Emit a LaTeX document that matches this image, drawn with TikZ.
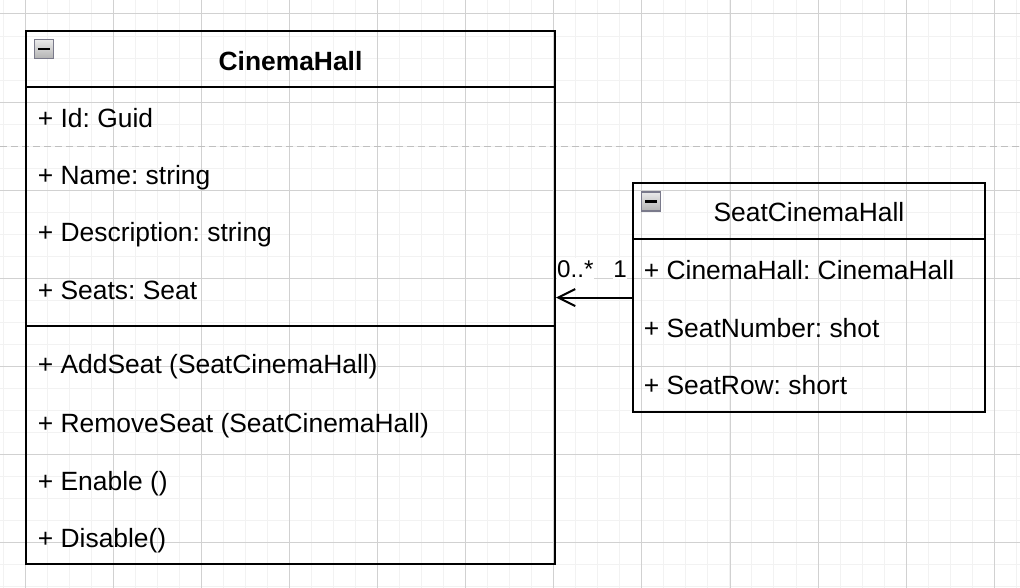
\documentclass[tikz,border=0pt]{standalone}
\usepackage{fontspec}
\setmainfont{Liberation Sans}
\frenchspacing
\usetikzlibrary{arrows.meta,calc,positioning}
\tikzset{%
    umlbox/.style={draw,line width=2pt,inner sep=0pt},
    umlline/.style={line width=2pt},
    member/.style={anchor=base west,inner sep=0pt,font=\fontsize{26.4}{30}\selectfont},
    title/.style={anchor=base,inner sep=0pt,font=\fontsize{26.4}{30}\selectfont},
    multlabel/.style={fill=white,inner xsep=0pt,inner ysep=2pt,font=\fontsize{24.2}{28}\selectfont},
    collapse/.style={draw=black!45!blue!20!white!60!black,line width=1.5pt,minimum size=19pt,inner sep=0pt,
        top color=black!8,bottom color=black!30},
}
\tikzstyle{gridminor}=[line width=1pt,color=black!5]
\tikzstyle{gridmajor}=[line width=1pt,color=black!18]
\tikzstyle{pagebreak}=[line width=1.5pt,color=black!25,dash pattern=on 7pt off 4pt]
\tikzstyle{assoc}=[-{Straight Barb[length=17pt,width=17pt]},line width=2pt]

\begin{document}
\begin{tikzpicture}[x=1pt,y=-1pt]
    \useasboundingbox (0,0) rectangle (1020,588);
    \fill[white] (0,0) rectangle (1020,588);
    % grid
    \foreach \i in {0,...,46} \draw[gridminor] ({3.28+22.02*\i},0) -- ({3.28+22.02*\i},588);
    \foreach \j in {0,...,26} \draw[gridminor] (0,{14+22.02*\j}) -- (1020,{14+22.02*\j});
    \foreach \i in {0,...,11} \draw[gridmajor] ({25.3+88.09*\i},0) -- ({25.3+88.09*\i},588);
    \foreach \j in {0,...,6} \draw[gridmajor] (0,{14+88.08*\j}) -- (1020,{14+88.08*\j});
    \draw[pagebreak] (0,146.7) -- (1020,146.7);

    \node [umlbox,minimum width=529pt,minimum height=532.6pt] (hall) at (290.5,297.3) {};
    \node [umlbox,minimum width=352pt,minimum height=228.6pt] (seat) at (809,297.6) {};
    \draw[umlline] ([yshift=-57.2pt]hall.north west) -- ([yshift=-57.2pt]hall.north east);
    \draw[umlline] ([yshift=-295.5pt]hall.north west) -- ([yshift=-295.5pt]hall.north east);
    \draw[umlline] ([yshift=-57pt]seat.north west) -- ([yshift=-57pt]seat.north east);

    \node [collapse] (hallicon) at ($(hall.north west)+(19,19)$) {};
    \draw[line width=2.7pt] ([xshift=-6pt]hallicon.center) -- ([xshift=6pt]hallicon.center);
    \node [collapse] (seaticon) at ($(seat.north west)+(19,19)$) {};
    \draw[line width=2.7pt] ([xshift=-6pt]seaticon.center) -- ([xshift=6pt]seaticon.center);

    \node [title] (hallname) at ($(hall.north)+(0,40.5)$) {\bfseries CinemaHall};
    \node [member] (hallid) at ($(hall.north west)+(12.7,98)$) {+ Id: Guid};
    \node [member] (hallnm) at ($(hall.north west)+(12.7,155)$) {+ Name: string};
    \node [member] (halldesc) at ($(hall.north west)+(12.7,212)$) {+ Description: string};
    \node [member] (hallseats) at ($(hall.north west)+(12.7,269.5)$) {+ Seats: Seat};
    \node [member] (addseat) at ($(hall.north west)+(12.7,343.5)$) {+ AddSeat (SeatCinemaHall)};
    \node [member] (removeseat) at ($(hall.north west)+(12.7,402.5)$) {+ RemoveSeat (SeatCinemaHall)};
    \node [member] (enable) at ($(hall.north west)+(12.7,460)$) {+ Enable ()};
    \node [member] (disable) at ($(hall.north west)+(12.7,517)$) {+ Disable()};

    \node [title] (seatname) at ($(seat.north)+(0,39)$) {SeatCinemaHall};
    \node [member] (seathall) at ($(seat.north west)+(11.7,97.2)$) {+ CinemaHall: CinemaHall};
    \node [member] (seatnum) at ($(seat.north west)+(11.7,154.7)$) {+ SeatNumber: shot};
    \node [member] (seatrow) at ($(seat.north west)+(11.7,212.2)$) {+ SeatRow: short};

    \draw[assoc] (seat.west) -- (seat.west -| hall.east);
    \node [multlabel,anchor=base west] (manyend) at ($(seat.west -| hall.east)+(1,-20.5)$) {0..*};
    \node [multlabel,anchor=base east] (oneend) at ($(seat.west)+(-5,-20.5)$) {1};
\end{tikzpicture}
\end{document}
